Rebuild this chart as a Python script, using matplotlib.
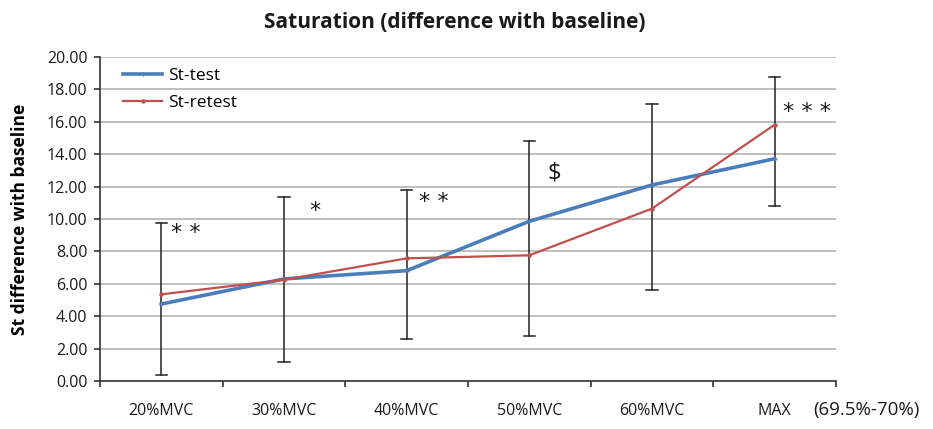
import matplotlib
matplotlib.use("Agg")
import matplotlib.pyplot as plt
import numpy as np

categories = ["20%MVC", "30%MVC", "40%MVC", "50%MVC", "60%MVC", "MAX"]
st_test = [4.75, 6.30, 6.81, 9.86, 12.10, 13.72]
st_retest = [5.35, 6.25, 7.57, 7.76, 10.64, 15.82]
err_low = [0.35, 1.19, 2.57, 2.75, 5.64, 10.82]
err_high = [9.75, 11.34, 11.81, 14.83, 17.12, 18.74]
annotations = ["* *", "*", "* *", "$", "", "* * *"]
annot_y = [9.15, 10.5, 11.05, 12.8, 0, 16.6]
annot_dx = [0.2, 0.25, 0.22, 0.2, 0, 0.26]
y_ticks = [0, 2, 4, 6, 8, 10, 12, 14, 16, 18, 20]

plt.rcParams['font.family'] = ['Open Sans', 'DejaVu Sans']

fig = plt.figure(figsize=(9.33, 4.29), dpi=100)
ax = fig.add_axes([100/933, 48/429, 736/933, 324/429])

x = np.arange(len(categories))
ax.set_xlim(-0.5, len(categories) - 0.5)
ax.set_ylim(0, 20)

for yt in y_ticks[1:]:
    ax.axhline(yt, color="#b3b3b3", lw=1.2, zorder=0)

# error bars
for xi, lo, hi in zip(x, err_low, err_high):
    ax.plot([xi, xi], [lo, hi], color="#222222", lw=1.1, zorder=2)
    ax.plot([xi - 0.045, xi + 0.045], [lo, lo], color="#222222", lw=1.1, zorder=2)
    ax.plot([xi - 0.045, xi + 0.045], [hi, hi], color="#222222", lw=1.1, zorder=2)

ax.plot(x, st_test, color="#4a7ebb", lw=2.6, marker="+", ms=3, mew=1,
        label="St-test", zorder=3)
ax.plot(x, st_retest, color="#c0504d", lw=1.6, marker="o", ms=2.2,
        label="St-retest", zorder=4)

for xi, a, ay, dx in zip(x, annotations, annot_y, annot_dx):
    if a:
        if a == "$":
            ax.text(xi + dx, ay, a, fontsize=17, ha="center", va="center",
                    color="#1a1a1a")
        else:
            ax.text(xi + dx, ay, a, fontsize=16, ha="center", va="center",
                    color="#1a1a1a", family="DejaVu Sans")

ax.set_yticks(y_ticks)
ax.set_yticklabels([f"{v:.2f}" for v in y_ticks], fontsize=11.5, color="#1a1a1a")
ax.set_xticks(x)
ax.set_xticklabels(categories, fontsize=11.5, color="#1a1a1a")
ax.tick_params(axis="x", length=0, pad=16)
ax.set_xticks(np.arange(-0.5, len(categories) + 0.5, 1), minor=True)
ax.tick_params(axis="x", which="minor", length=4, width=1.2, color="#333333")
ax.tick_params(axis="y", length=4, width=1.2, color="#333333", pad=5)

for s in ["top", "right"]:
    ax.spines[s].set_visible(False)
for s in ["left", "bottom"]:
    ax.spines[s].set_color("#333333")
    ax.spines[s].set_linewidth(1.2)

ax.set_ylabel("St difference with baseline", fontsize=12.5, fontweight="bold",
              labelpad=13)

fig.text(455/933, 1 - 22/429, "Saturation (difference with baseline)",
         fontsize=15, fontweight="bold", ha="center", va="center",
         color="#1a1a1a")

fig.text(866/933, 1 - 410/429, "(69.5%-70%)", fontsize=13.5, ha="center",
         va="center", color="#1a1a1a")

leg = ax.legend(loc="upper left", bbox_to_anchor=(0.022, 0.988), frameon=False,
                borderaxespad=0, fontsize=12.5, handlelength=2.25,
                handletextpad=0.35, labelspacing=0.62)

fig.savefig("out.png", dpi=100)
